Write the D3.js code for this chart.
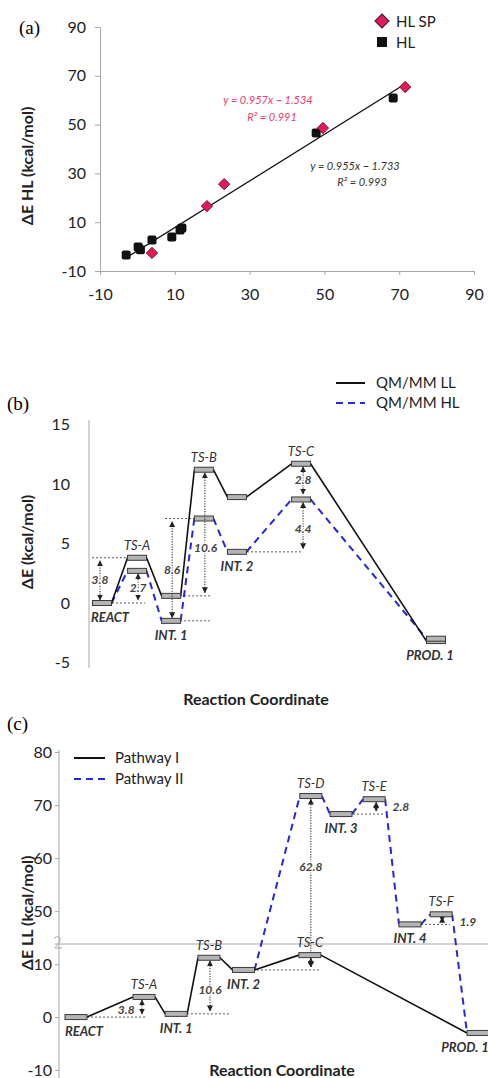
<!DOCTYPE html>
<meta charset="utf-8">
<html>
<head>
<script src="https://d3js.org/d3.v7.min.js"></script>
<style>
  body { margin: 0; background: #fff; }
  text { font-family: Lato, "Open Sans", sans-serif; }
</style>
</head>
<body>
<div id="my_dataviz"></div>
<script>
// ---------- data (a): HL vs LL correlation ----------
const hlX = [-3.0, 0.2, 0.8, 3.9, 9.2, 11.4, 11.9, 47.8, 68.4];
const hlY = [-3.4, -0.2, -1.3, 2.7, 3.9, 6.8, 7.6, 46.6, 60.9];
const spX = [3.9, 18.6, 23.2, 49.6, 71.6];
const spY = [-2.6, 16.6, 25.6, 48.6, 65.4];
const fitSlope = 0.955, fitIntercept = -1.733;
const fitRange = [-3, 72];
const ticksA = [-10, 10, 30, 50, 70, 90];

// ---------- data (b): QM/MM LL vs HL profile ----------
const statesB = ["REACT", "TS-A", "INT. 1", "TS-B", "INT. 2", "TS-C", "PROD. 1"];
const coordB = [0, 1.05, 2.07, 3.05, 4.04, 5.96, 10];
const llB = [0, 3.8, 0.6, 11.2, 8.9, 11.7, -3.2];
const hlB = [0, 2.7, -1.5, 7.1, 4.3, 8.7, -3.0];
const ticksB = [-5, 0, 5, 10, 15];
// barrier arrows: x, from, to, label, label value
const barB = [
  {x: -0.06, v0: 0, v1: 3.8, label: "3.8", lx: -0.06, lv: 1.9},
  {x: 1.08, v0: 2.7, v1: 0, label: "2.7", lx: 1.08, lv: 1.3},
  {x: 2.1, v0: -1.5, v1: 7.1, label: "8.6", lx: 2.1, lv: 2.8},
  {x: 3.08, v0: 0.6, v1: 11.2, label: "10.6", lx: 3.1, lv: 4.6},
  {x: 6.02, v0: 11.7, v1: 8.9, label: "2.8", lx: 6.02, lv: 10.3},
  {x: 6.02, v0: 8.7, v1: 4.3, label: "4.4", lx: 6.02, lv: 6.2}
];
// dashed reference lines: x0, x1, value
const guideB = [
  [-0.3, 0.78, 3.8], [0.3, 1.29, 0], [1.89, 2.78, 7.1],
  [2.34, 3.23, -1.5], [2.34, 3.29, 0.6], [4.34, 6.02, 4.3]
];

// ---------- data (c): Pathway I / II ----------
const statesC1 = ["REACT", "TS-A", "INT. 1", "TS-B", "INT. 2", "TS-C", "PROD. 1"];
const coordC1 = [0, 2.03, 2.99, 3.97, 5.0, 6.98, 12];
const pathI = [0, 3.8, 0.6, 11.2, 8.9, 11.7, -3.0];
const statesC2 = ["INT. 2", "TS-D", "INT. 3", "TS-E", "INT. 4", "TS-F", "PROD. 1"];
const coordC2 = [5.0, 7.01, 7.91, 8.9, 9.97, 10.9, 12];
const pathII = [8.9, 71.7, 68.3, 71.1, 47.5, 49.4, -3.0];
const ticksC = [-10, 0, 10, 50, 60, 70, 80];
const barC = [
  {x: 1.97, v0: 0, v1: 3.8, label: "3.8", lx: 1.5, lv: 1.3},
  {x: 4.0, v0: 0.6, v1: 11.2, label: "10.6", lx: 4.0, lv: 5.1},
  {x: 7.01, v0: 11.7, v1: 8.9, label: "", lx: 0, lv: 0},
  {x: 7.01, v0: 8.9, v1: 71.7, label: "62.8", lx: 7.01, lv: 58.3},
  {x: 8.96, v0: 68.3, v1: 71.1, label: "2.8", lx: 9.7, lv: 69.6},
  {x: 10.93, v0: 47.5, v1: 49.4, label: "1.9", lx: 11.7, lv: 47.9}
];
const guideC = [
  [0.33, 2.12, 0], [3.31, 4.6, 0.6], [5.4, 7.28, 8.9],
  [8.27, 9.22, 68.3], [10.3, 11.16, 47.5]
];

const W = 488, H = 1078;
const svg = d3.select("#my_dataviz").append("svg")
  .attr("width", W).attr("height", H)
  .style("background", "#fff");

svg.append("defs").append("marker")
  .attr("id", "arr")
  .attr("viewBox", "0 0 6 6")
  .attr("refX", 5.5).attr("refY", 3)
  .attr("markerWidth", 6).attr("markerHeight", 6)
  .attr("markerUnits", "userSpaceOnUse")
  .attr("orient", "auto-start-reverse")
  .append("path").attr("d", "M0,0 L6,3 L0,6 Z").attr("fill", "#222");

const red = "#e5195a", blue = "#2626dc", axisGrey = "#a8a8a8";
const plain = d => String(d);   // hyphen minus like the original

function styleAxis(g) {
  g.select(".domain").attr("stroke", axisGrey);
  g.selectAll(".tick line").attr("stroke", axisGrey);
  g.selectAll(".tick text").attr("fill", "#222").style("font-size", "16px")
    .style("font-family", "Lato, sans-serif");
}

// ================= panel (a) =================
const xA = d3.scaleLinear().domain([-10, 90]).range([100, 474]);
const yA = d3.scaleLinear().domain([-10, 90]).range([271, 27]);

svg.append("g").attr("transform", "translate(0,271)")
  .call(d3.axisBottom(xA).tickValues(ticksA).tickFormat(plain).tickSize(4).tickPadding(14))
  .call(styleAxis);
svg.append("g").attr("transform", "translate(100,0)")
  .call(d3.axisLeft(yA).tickValues(ticksA).tickFormat(plain).tickSize(5).tickPadding(9))
  .call(styleAxis);

svg.append("text").attr("x", 19).attr("y", 34)
  .style("font-family", "'Liberation Serif', serif").style("font-size", "19px").text("(a)");
svg.append("text").attr("transform", "translate(33,166) rotate(-90)")
  .attr("text-anchor", "middle").style("font-size", "16px").style("font-weight", "bold")
  .attr("fill", "#222").text("ΔE HL (kcal/mol)");

svg.append("line")
  .attr("x1", xA(fitRange[0])).attr("y1", yA(fitSlope * fitRange[0] + fitIntercept))
  .attr("x2", xA(fitRange[1])).attr("y2", yA(fitSlope * fitRange[1] + fitIntercept))
  .attr("stroke", "#111").attr("stroke-width", 1.3);

svg.append("g").selectAll("rect")
  .data(hlX.map((d, i) => [d, hlY[i]]))
  .join("rect")
  .attr("x", d => xA(d[0]) - 4.5).attr("y", d => yA(d[1]) - 4.5)
  .attr("width", 9).attr("height", 9).attr("rx", 2)
  .attr("fill", "#111");

svg.append("g").selectAll("rect")
  .data(spX.map((d, i) => [d, spY[i]]))
  .join("rect")
  .attr("x", -4).attr("y", -4).attr("width", 8).attr("height", 8)
  .attr("transform", d => `translate(${xA(d[0])},${yA(d[1])}) rotate(45)`)
  .attr("fill", red).attr("stroke", "#5a0a1a").attr("stroke-width", 0.8);

// legend (a)
svg.append("rect").attr("x", -5).attr("y", -5).attr("width", 10).attr("height", 10)
  .attr("transform", "translate(382,21) rotate(45)")
  .attr("fill", red).attr("stroke", "#222").attr("stroke-width", 1);
svg.append("rect").attr("x", 377).attr("y", 37).attr("width", 10).attr("height", 10)
  .attr("fill", "#111");
svg.append("text").attr("x", 396).attr("y", 27).style("font-size", "15px").attr("fill", "#222").text("HL SP");
svg.append("text").attr("x", 396).attr("y", 48).style("font-size", "15px").attr("fill", "#222").text("HL");

// fit equations
const eqs = [
  {t: "y = 0.957x − 1.534", x: 268, y: 104, c: "#ee3a6c"},
  {t: "R² = 0.991", x: 272, y: 121, c: "#ee3a6c"},
  {t: "y = 0.955x − 1.733", x: 355, y: 170, c: "#333"},
  {t: "R² = 0.993", x: 362, y: 186, c: "#333"}
];
svg.append("g").selectAll("text").data(eqs).join("text")
  .attr("x", d => d.x).attr("y", d => d.y).attr("text-anchor", "middle")
  .style("font-size", "11px").style("font-style", "italic").attr("fill", d => d.c)
  .text(d => d.t);

// ================= energy profile helpers =================
function drawPath(g, x, y, coords, vals, w, color, dash, sw) {
  for (let i = 0; i < coords.length - 1; i++) {
    g.append("line")
      .attr("x1", x(coords[i]) + w / 2).attr("y1", y(vals[i]))
      .attr("x2", x(coords[i + 1]) - w / 2).attr("y2", y(vals[i + 1]))
      .attr("stroke", color).attr("stroke-width", sw)
      .attr("stroke-dasharray", dash);
  }
}
function drawBars(g, x, y, coords, vals, w) {
  g.append("g").selectAll("rect").data(coords.map((c, i) => [c, vals[i]]))
    .join("rect")
    .attr("x", d => x(d[0]) - w / 2).attr("y", d => y(d[1]) - 2.5)
    .attr("width", w).attr("height", 5)
    .attr("fill", "#b4b4b4").attr("stroke", "#3a3a3a").attr("stroke-width", 1);
}
function drawGuides(g, x, y, guides) {
  g.append("g").selectAll("line").data(guides).join("line")
    .attr("x1", d => x(d[0])).attr("x2", d => x(d[1]))
    .attr("y1", d => y(d[2])).attr("y2", d => y(d[2]))
    .attr("stroke", "#444").attr("stroke-width", 0.9).attr("stroke-dasharray", "2,2");
}
function drawArrows(g, x, y, arrows) {
  g.append("g").selectAll("line").data(arrows).join("line")
    .attr("x1", d => x(d.x)).attr("x2", d => x(d.x))
    .attr("y1", d => y(d.v0) + (d.v1 > d.v0 ? -3 : 3))
    .attr("y2", d => y(d.v1) + (d.v1 > d.v0 ? 3 : -3))
    .attr("stroke", "#333").attr("stroke-width", 1.1).attr("stroke-dasharray", "1.2,1.4")
    .attr("marker-start", "url(#arr)").attr("marker-end", "url(#arr)");
  g.append("g").selectAll("text").data(arrows.filter(d => d.label)).join("text")
    .attr("x", d => x(d.lx)).attr("y", d => y(d.lv) + 4)
    .attr("text-anchor", "middle")
    .style("font-size", "12px").style("font-style", "italic").style("font-weight", "bold")
    .attr("fill", "#444").attr("stroke", "#fff").attr("stroke-width", 3).attr("paint-order", "stroke")
    .text(d => d.label);
}
function drawLabels(g, x, y, states, coords, valsLow, valsHigh, prodShift) {
  states.forEach((s, i) => {
    const ts = s.startsWith("TS");
    let dx = 0;
    if (s === "REACT") dx = 8;
    if (s === "PROD. 1") dx = prodShift;
    g.append("text")
      .attr("x", x(coords[i]) + dx)
      .attr("y", ts ? y(valsHigh[i]) - 8 : y(valsLow[i]) + 19)
      .attr("text-anchor", "middle")
      .style("font-size", "13px").style("font-style", "italic")
      .style("font-weight", ts ? "normal" : "bold")
      .attr("fill", "#333").text(s);
  });
}

// ================= panel (b) =================
const xB = d3.scaleLinear().domain([0, 10]).range([102, 436]);
const yB = d3.scaleLinear().domain([-5, 15]).range([662.5, 424.5]);
const gB = svg.append("g");

gB.append("g").attr("transform", "translate(89,0)")
  .call(d3.axisLeft(yB).tickValues(ticksB).tickFormat(plain).tickSize(0).tickPadding(19))
  .call(g => g.select(".domain").attr("d", "M0,420V668"))
  .call(styleAxis);

svg.append("text").attr("x", 7).attr("y", 410)
  .style("font-family", "'Liberation Serif', serif").style("font-size", "19px").text("(b)");
svg.append("text").attr("transform", "translate(33,542) rotate(-90)")
  .attr("text-anchor", "middle").style("font-size", "16px").style("font-weight", "bold")
  .attr("fill", "#222").text("ΔE (kcal/mol)");
svg.append("text").attr("x", 256).attr("y", 705).attr("text-anchor", "middle")
  .style("font-size", "16px").style("font-weight", "bold").attr("fill", "#222")
  .text("Reaction Coordinate");

drawGuides(gB, xB, yB, guideB);
drawPath(gB, xB, yB, coordB, hlB, 19, blue, "7,5", 2);
drawPath(gB, xB, yB, coordB, llB, 19, "#111", null, 1.6);
drawBars(gB, xB, yB, coordB, llB, 19);
drawBars(gB, xB, yB, coordB, hlB, 19);
drawArrows(gB, xB, yB, barB);
drawLabels(gB, xB, yB, statesB, coordB,
  llB.map((v, i) => Math.min(v, hlB[i])), llB.map((v, i) => Math.max(v, hlB[i])), -6);

// legend (b)
gB.append("line").attr("x1", 336).attr("x2", 365).attr("y1", 383).attr("y2", 383)
  .attr("stroke", "#111").attr("stroke-width", 2);
gB.append("line").attr("x1", 336).attr("x2", 365).attr("y1", 403).attr("y2", 403)
  .attr("stroke", blue).attr("stroke-width", 2).attr("stroke-dasharray", "7,5");
gB.append("text").attr("x", 376).attr("y", 388).style("font-size", "15px").attr("fill", "#222").text("QM/MM LL");
gB.append("text").attr("x", 376).attr("y", 408).style("font-size", "15px").attr("fill", "#222").text("QM/MM HL");

// ================= panel (c) =================
const xC = d3.scaleLinear().domain([0, 12]).range([76, 478]);
const yC = d3.scaleLinear().domain([-10, 13.8, 43.8, 80]).range([1070, 944, 944, 752]);
const gC = svg.append("g");

gC.append("g").attr("transform", "translate(59,0)")
  .call(d3.axisLeft(yC).tickValues(ticksC).tickFormat(plain).tickSize(4).tickPadding(3))
  .call(g => g.select(".domain").attr("d", "M0,750V1078"))
  .call(styleAxis);

// axis break
gC.append("line").attr("x1", 55).attr("x2", 488).attr("y1", 944).attr("y2", 944)
  .attr("stroke", "#c4c4c4").attr("stroke-width", 1.5);
gC.append("path").attr("d", "M54,938 q4,-3 6,0 q1,3 -5,10 h7")
  .attr("fill", "none").attr("stroke", "#aaa").attr("stroke-width", 1);

svg.append("text").attr("x", 7).attr("y", 730)
  .style("font-family", "'Liberation Serif', serif").style("font-size", "19px").text("(c)");
svg.append("text").attr("transform", "translate(33,913) rotate(-90)")
  .attr("text-anchor", "middle").style("font-size", "16px").style("font-weight", "bold")
  .attr("fill", "#222").text("ΔE LL (kcal/mol)");
svg.append("text").attr("x", 282).attr("y", 1076).attr("text-anchor", "middle")
  .style("font-size", "16px").style("font-weight", "bold").attr("fill", "#222")
  .text("Reaction Coordinate");

drawGuides(gC, xC, yC, guideC);
drawPath(gC, xC, yC, coordC2, pathII, 22, blue, "7,5", 2);
drawPath(gC, xC, yC, coordC1, pathI, 22, "#111", null, 1.6);
drawArrows(gC, xC, yC, barC);
drawBars(gC, xC, yC, coordC1, pathI, 22);
drawBars(gC, xC, yC, coordC2.slice(1, 6), pathII.slice(1, 6), 22);
drawLabels(gC, xC, yC, statesC1, coordC1, pathI, pathI, -13);
drawLabels(gC, xC, yC, statesC2.slice(1, 6), coordC2.slice(1, 6), pathII.slice(1, 6), pathII.slice(1, 6), 0);

// legend (c)
gC.append("line").attr("x1", 74).attr("x2", 105).attr("y1", 758).attr("y2", 758)
  .attr("stroke", "#111").attr("stroke-width", 2);
gC.append("line").attr("x1", 74).attr("x2", 105).attr("y1", 779).attr("y2", 779)
  .attr("stroke", blue).attr("stroke-width", 2).attr("stroke-dasharray", "7,5");
gC.append("text").attr("x", 115).attr("y", 763).style("font-size", "15px").attr("fill", "#222").text("Pathway I");
gC.append("text").attr("x", 115).attr("y", 784).style("font-size", "15px").attr("fill", "#222").text("Pathway II");
</script>
</body>
</html>
